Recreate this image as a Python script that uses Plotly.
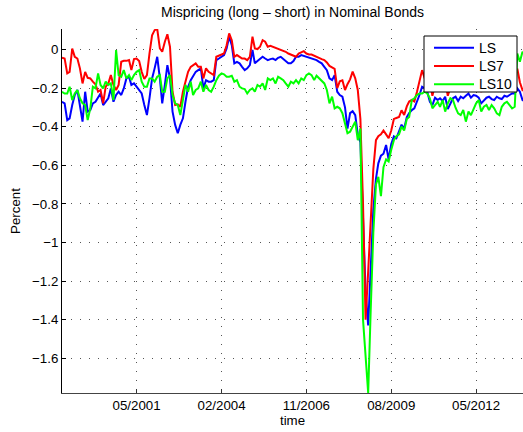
import pandas as pd
import plotly.graph_objects as go

dates = pd.date_range("1998-12-01", periods=181, freq="MS")

ls = [
    -0.271, -0.279, -0.366, -0.357, -0.288, -0.236, -0.210, -0.288, -0.374, -0.219,
    -0.322, -0.314, -0.279, -0.271, -0.245, -0.228, -0.288, -0.271, -0.253, -0.202,
    -0.271, -0.236, -0.219, -0.236, -0.202, -0.150, -0.141, -0.184, -0.176, -0.193,
    -0.210, -0.228, -0.288, -0.340, -0.253, -0.150, -0.098, -0.038, -0.150, -0.279,
    -0.184, -0.081, -0.150, -0.322, -0.391, -0.434, -0.391, -0.357, -0.271, -0.193,
    -0.159, -0.141, -0.116, -0.107, -0.098, -0.202, -0.159, -0.167,
    -0.167, -0.159, -0.055, -0.047, -0.038, -0.029, 0.005, 0.066, 0.022, -0.072,
    -0.064, -0.072, -0.090, -0.107, -0.098, -0.081, -0.003, -0.072, -0.060, -0.047,
    -0.038, -0.047, -0.055, -0.050, -0.047, -0.055, -0.043, -0.038, -0.050, -0.060,
    -0.072, -0.072, -0.060, -0.038, -0.038, -0.029, -0.033, -0.038, -0.041, -0.047,
    -0.052, -0.055, -0.064, -0.072, -0.090, -0.107, -0.150, -0.159, -0.133, -0.219,
    -0.236, -0.245, -0.300, -0.410, -0.330, -0.320, -0.340, -0.440, -0.480, -0.900,
    -1.250, -1.430, -1.150, -0.830, -0.670, -0.590, -0.550, -0.540, -0.495, -0.570,
    -0.490, -0.450, -0.460, -0.420, -0.390, -0.410, -0.350, -0.330,
    -0.314, -0.305, -0.271, -0.236, -0.193, -0.202, -0.219, -0.271, -0.288, -0.250,
    -0.262, -0.253, -0.267, -0.245, -0.309, -0.279, -0.253, -0.245, -0.267, -0.245,
    -0.253, -0.240, -0.228, -0.250, -0.236, -0.240, -0.250, -0.279, -0.267, -0.250,
    -0.245, -0.257, -0.262, -0.245, -0.253, -0.257, -0.240, -0.245, -0.236, -0.228,
    -0.228, -0.202, -0.219, -0.262, -0.270,
]

ls7 = [
    -0.043, -0.047, -0.124, -0.116, 0.005, -0.038, -0.047, -0.098, -0.176, -0.116,
    -0.147, -0.150, -0.167, -0.181, -0.219, -0.210, -0.279, -0.193, -0.176, -0.133,
    -0.184, -0.210, -0.184, -0.064, -0.059, -0.059, -0.055, -0.107, -0.050, -0.047,
    -0.060, -0.116, -0.153, -0.133, -0.021, 0.074, 0.100, 0.106, 0.005, -0.012,
    0.040, 0.079, 0.014, -0.219, -0.288, -0.284, -0.297, -0.219, -0.167, -0.116,
    -0.090, -0.081, -0.072, -0.090, -0.090, -0.150, -0.098, -0.116,
    -0.124, -0.133, -0.038, -0.033, -0.026, -0.021, 0.022, 0.083, 0.048, -0.038,
    -0.029, -0.038, -0.047, -0.047, -0.055, -0.038, 0.066, 0.005, 0.002, 0.014,
    0.048, 0.040, 0.014, 0.019, 0.014, 0.005, 0.002, -0.003, -0.009, -0.012,
    -0.021, -0.026, -0.029, -0.038, -0.021, -0.016, -0.009, -0.021, -0.026, -0.026,
    -0.033, -0.038, -0.047, -0.050, -0.055, -0.067, -0.085, -0.095, -0.100, -0.200,
    -0.165, -0.160, -0.210, -0.180, -0.155, -0.115, -0.150, -0.210, -0.360, -0.800,
    -1.400, -1.150, -0.900, -0.620, -0.470, -0.450, -0.440, -0.420, -0.440, -0.460,
    -0.420, -0.360, -0.355, -0.350, -0.315, -0.340, -0.295, -0.270,
    -0.262, -0.270, -0.220, -0.167, -0.107, -0.150, -0.130, -0.170, -0.240, -0.180,
    -0.190, -0.170, -0.190, -0.160, -0.240, -0.200, -0.170, -0.160, -0.180, -0.150,
    -0.170, -0.160, -0.140, -0.170, -0.150, -0.160, -0.170, -0.220, -0.190, -0.170,
    -0.160, -0.180, -0.190, -0.160, -0.170, -0.180, -0.150, -0.160, -0.140, -0.130,
    -0.120, -0.100, -0.170, -0.210, -0.200,
]

ls10 = [
    -0.219, -0.228, -0.228, -0.193, -0.262, -0.228, -0.210, -0.253, -0.279, -0.288,
    -0.366, -0.305, -0.193, -0.202, -0.124, -0.184, -0.202, -0.167, -0.184, -0.176,
    -0.262, -0.003, -0.133, -0.141, -0.107, -0.150, -0.133, -0.159, -0.133, -0.116,
    -0.107, -0.167, -0.193, -0.193, -0.150, -0.150, -0.167, -0.141, -0.133, -0.219,
    -0.219, -0.150, -0.133, -0.236, -0.279, -0.288, -0.340, -0.253, -0.184, -0.219,
    -0.167, -0.236, -0.210, -0.202, -0.167, -0.219, -0.184, -0.210,
    -0.219, -0.193, -0.159, -0.136, -0.124, -0.129, -0.141, -0.141, -0.136, -0.167,
    -0.159, -0.193, -0.202, -0.205, -0.228, -0.210, -0.202, -0.219, -0.184, -0.193,
    -0.176, -0.210, -0.150, -0.159, -0.150, -0.176, -0.141, -0.150, -0.159, -0.176,
    -0.193, -0.167, -0.176, -0.159, -0.176, -0.150, -0.159, -0.133, -0.124, -0.133,
    -0.159, -0.136, -0.150, -0.159, -0.176, -0.210, -0.279, -0.245, -0.305, -0.297,
    -0.305, -0.330, -0.380, -0.434, -0.426, -0.400, -0.374, -0.470, -0.410, -1.400,
    -1.580, -1.780, -1.350, -0.950, -0.700, -0.660, -0.760, -0.610, -0.570, -0.580,
    -0.520, -0.470, -0.450, -0.440, -0.400, -0.420, -0.360, -0.350,
    -0.262, -0.253, -0.236, -0.228, -0.228, -0.219, -0.228, -0.253, -0.305, -0.288,
    -0.271, -0.297, -0.262, -0.322, -0.279, -0.253, -0.262, -0.302, -0.331, -0.340,
    -0.314, -0.374, -0.322, -0.340, -0.305, -0.279, -0.262, -0.322, -0.297, -0.288,
    -0.314, -0.288, -0.305, -0.331, -0.340, -0.297, -0.279, -0.271, -0.288, -0.305,
    -0.297, -0.021, -0.064, -0.012, -0.030,
]

series_names = ["LS", "LS7", "LS10"]
series_colors = ["#0000FF", "#FF0000", "#00FF00"]
xtick_dates = ["2001-05-01", "2004-02-01", "2006-11-01", "2009-08-01", "2012-05-01"]
xtick_labels = ["05/2001", "02/2004", "11/2006", "08/2009", "05/2012"]
ytick_vals = [0, -0.2, -0.4, -0.6, -0.8, -1.0, -1.2, -1.4, -1.6]
ytick_labels = ["0", "\u22120.2", "\u22120.4", "\u22120.6", "\u22120.8", "\u22121", "\u22121.2", "\u22121.4", "\u22121.6"]

FONT = "Liberation Sans, Arial, Helvetica, sans-serif"
GRID_DASH = "1px,8px"

# layout geometry (pixels)
W, H = 523, 432
PL, PR, PT, PB = 62, 523, 29, 393


def px_x(p):
    return (p - PL) / (PR - PL)


def px_y(p):
    return (PB - p) / (PB - PT)


fig = go.Figure()
for name, vals, col in zip(series_names, [ls, ls7, ls10], series_colors):
    fig.add_trace(go.Scatter(x=dates, y=vals, mode="lines", name=name,
                             line=dict(color=col, width=2), hoverinfo="skip",
                             showlegend=False))

# MATLAB-style legend box drawn on top of the lines
shapes = [dict(type="rect", xref="paper", yref="paper",
               x0=px_x(424), x1=px_x(517), y0=px_y(92), y1=px_y(36),
               fillcolor="white", line=dict(color="black", width=1), layer="above")]
annotations = []
row_y = [47.7, 66.0, 84.3]
for name, col, ry in zip(series_names, series_colors, row_y):
    shapes.append(dict(type="line", xref="paper", yref="paper",
                       x0=px_x(434), x1=px_x(474), y0=px_y(ry), y1=px_y(ry),
                       line=dict(color=col, width=2), layer="above"))
    annotations.append(dict(text=name, xref="paper", yref="paper",
                            x=px_x(477), y=px_y(ry), xanchor="left", yanchor="middle",
                            showarrow=False, font=dict(family=FONT, size=14, color="black")))

fig.update_layout(
    width=W, height=H,
    margin=dict(l=PL, r=W - PR, t=PT, b=H - PB, autoexpand=False),
    paper_bgcolor="white", plot_bgcolor="white",
    font=dict(family=FONT, size=13.3, color="black"),
    title=dict(text="Mispricing (long \u2013 short) in Nominal Bonds",
               x=0.5, xref="paper", xanchor="center",
               y=(H - 12) / H, yref="container", yanchor="middle",
               font=dict(family=FONT, size=14, color="black")),
    showlegend=False,
    shapes=shapes,
    annotations=annotations,
    xaxis=dict(range=["1998-12-01", "2013-11-07"], tickmode="array",
               tickvals=xtick_dates, ticktext=xtick_labels,
               showgrid=True, gridcolor="#555555", griddash=GRID_DASH, gridwidth=1,
               ticks="inside", ticklen=4, tickcolor="#333333",
               showline=True, linecolor="#444444", linewidth=1, mirror=False,
               zeroline=False, automargin=False,
               title=dict(text="time", standoff=2, font=dict(size=13.3))),
    yaxis=dict(range=[-1.78, 0.106], tickmode="array",
               tickvals=ytick_vals, ticktext=ytick_labels,
               showgrid=True, gridcolor="#555555", griddash=GRID_DASH, gridwidth=1,
               ticks="inside", ticklen=4, tickcolor="black",
               showline=True, linecolor="black", linewidth=1, mirror=False,
               zeroline=False, automargin=False,
               title=dict(text="Percent", standoff=8, font=dict(size=13.3))),
)

fig.write_html("out.html", config={"displayModeBar": False},
               post_script="document.body.style.margin='0';document.body.style.padding='0';document.body.style.overflow='hidden';")
